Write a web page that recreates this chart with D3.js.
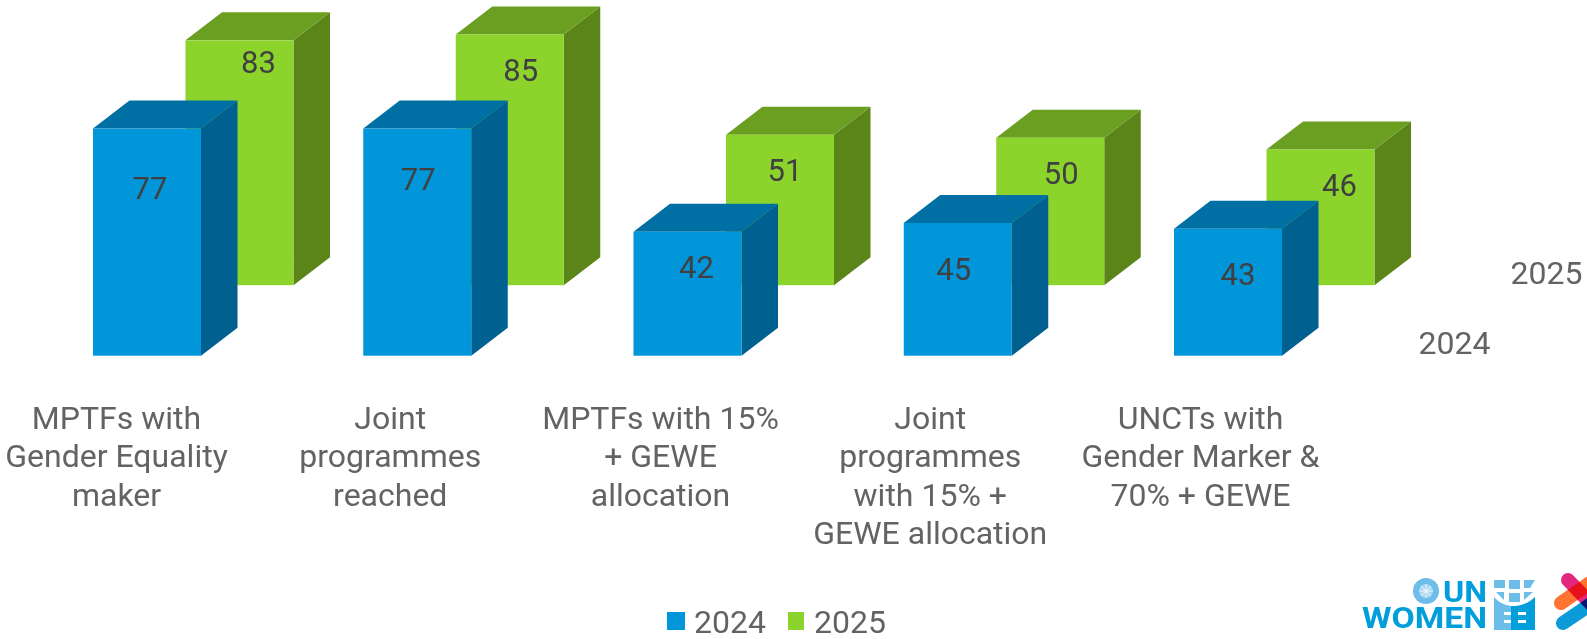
<!DOCTYPE html>
<html><head>
<meta charset="utf-8">
<script src="https://d3js.org/d3.v7.min.js"></script>
<style>
  html, body { margin: 0; padding: 0; background: #fff; overflow: hidden; }
  svg { display: block; }
  text { font-family: Roboto, sans-serif; }
  .cat text, .depth text, .legend text { fill: #636363; font-size: 32px; }
  .val { fill: #404040; font-size: 31px; text-anchor: middle; }
</style>
</head>
<body>
<svg id="chart" width="1587" height="639"></svg>
<script>
const categories = [
  ["MPTFs with", "Gender Equality", "maker"],
  ["Joint", "programmes", "reached"],
  ["MPTFs with 15%", "+ GEWE", "allocation"],
  ["Joint", "programmes", "with 15% +", "GEWE allocation"],
  ["UNCTs with", "Gender Marker &", "70% + GEWE"]
];
const years = ["2024", "2025"];
const values2024 = [77, 77, 42, 45, 43];
const values2025 = [83, 85, 51, 50, 46];

const svg = d3.select("#chart");

// front row sits on y=355.7, back row is shifted up and right
const step = 270.25;
const x = d3.scaleBand().domain(d3.range(5)).range([93, 93 + 4 * step + 108]).paddingInner(1 - 108 / step).paddingOuter(0).align(0);
const y = d3.scaleLinear().domain([0, 100]).range([0, 295]);
const depth = { dx: 36.5, dy: 28 };
const catNudge = [23.5, 27, 27, 26.5, 26.5];
const rows = [
  { year: "2025", values: values2025, ox: 92.5, base: 285.2, front: "#8cd42c", top: "#6b9f21", side: "#5c8519",
    nudge: [[19, 33], [11, 47], [5, 46], [11, 46], [19, 46]] },
  { year: "2024", values: values2024, ox: 0, base: 355.7, front: "#0096d9", top: "#006fa3", side: "#00608f",
    nudge: [[3, 70], [1, 61], [9, 46], [-4, 57], [10, 56]] }
];

rows.forEach(row => {
  const g = svg.append("g").attr("class", "row-" + row.year);
  const w = x.bandwidth();
  row.labelPos = [];
  row.values.forEach((v, i) => {
    const x0 = x(i) + row.ox;
    const y0 = row.base - y(v);
    const bar = g.append("g");
    bar.append("path").attr("fill", row.side)
      .attr("d", d3.line()([[x0 + w, y0], [x0 + w + depth.dx, y0 - depth.dy], [x0 + w + depth.dx, row.base - depth.dy], [x0 + w, row.base]]) + "Z");
    bar.append("path").attr("fill", row.top)
      .attr("d", d3.line()([[x0, y0], [x0 + depth.dx, y0 - depth.dy], [x0 + w + depth.dx, y0 - depth.dy], [x0 + w, y0]]) + "Z");
    bar.append("rect").attr("fill", row.front)
      .attr("x", x0).attr("y", y0).attr("width", w).attr("height", y(v));
    row.labelPos.push([x0 + w / 2 + row.nudge[i][0], y0 + row.nudge[i][1]]);
  });
});

// labels go over every bar
rows.forEach(row => {
  svg.append("g").selectAll("text").data(row.values).join("text")
    .attr("class", "val")
    .attr("x", (d, i) => row.labelPos[i][0])
    .attr("y", (d, i) => row.labelPos[i][1])
    .text(d => d);
});

// category labels
const catG = svg.append("g").attr("class", "cat");
categories.forEach((lines, i) => {
  const t = catG.append("text").attr("text-anchor", "middle");
  lines.forEach((line, j) => {
    t.append("tspan").attr("x", x(i) + catNudge[i]).attr("y", 428.5 + j * 38.5).text(line);
  });
});

// depth axis labels
const depthG = svg.append("g").attr("class", "depth");
depthG.append("text").attr("text-anchor", "middle").attr("x", 1454.5).attr("y", 354).text(years[0]);
depthG.append("text").attr("text-anchor", "middle").attr("x", 1546.5).attr("y", 284).text(years[1]);

// legend
const legendX = [667, 788];
const legend = svg.append("g").attr("class", "legend").selectAll("g").data(years).join("g");
legend.append("rect")
  .attr("x", (d, i) => legendX[i]).attr("y", 612)
  .attr("width", (d, i) => i ? 16 : 18).attr("height", 18)
  .attr("fill", (d, i) => i ? "#8cd42c" : "#0096d9");
legend.append("text")
  .attr("x", (d, i) => legendX[i] + (i ? 26 : 27)).attr("y", 633)
  .text(d => d);

// UN Women logo
const logo = svg.append("g").attr("class", "logo");
const logoBlue = "#009edb";
const logoLight = "#6cbde9";
logo.append("circle").attr("cx", 1426).attr("cy", 591).attr("r", 13).attr("fill", logoLight);
logo.append("circle").attr("cx", 1426).attr("cy", 591).attr("r", 7).attr("fill", "#a9d8f2");
logo.append("path").attr("fill", "none").attr("stroke", "#fff").attr("stroke-width", 0.8)
  .attr("d", "M1426 584V598M1419 591H1433M1421 586L1431 596M1431 586L1421 596");
logo.append("text").attr("x", 1443).attr("y", 601.5).attr("fill", logoBlue)
  .attr("font-size", 29).attr("font-weight", 700).attr("textLength", 44).attr("lengthAdjust", "spacingAndGlyphs").text("UN");
logo.append("text").attr("x", 1362).attr("y", 628).attr("fill", logoBlue)
  .attr("font-size", 30).attr("font-weight", 700).attr("textLength", 125).attr("lengthAdjust", "spacingAndGlyphs").text("WOMEN");
// emblem
logo.append("path").attr("fill", logoLight)
  .attr("d", "M1494 580H1505V588H1494ZM1509 580H1520V589H1509ZM1524 580H1535L1530 588H1524ZM1496 592L1504 592V600ZM1509 593H1520V602H1509ZM1524 592H1533L1524 600Z");
logo.append("path").attr("fill", logoLight)
  .attr("d", "M1494 597Q1501 605 1511 606V630H1494Z");
logo.append("path").attr("fill", logoBlue)
  .attr("d", "M1535 597Q1527 605 1516 606H1511V630H1535Z");
logo.append("path").attr("fill", "#fff")
  .attr("d", "M1504 612H1511V615H1504ZM1504 620H1511V623H1504ZM1518 612H1526V615H1518ZM1518 620H1526V623H1518Z");
// colour cross, runs off the right edge
const cross = [
  { c: "#ff7433", p: [[1561, 603], [1600, 576]] },
  { c: "#e5267f", p: [[1568, 580], [1600, 613]] },
  { c: "#0a9bd8", p: [[1563, 623], [1600, 598]] }
];
logo.selectAll("path.cross").data(cross).join("path").attr("class", "cross")
  .attr("d", d => d3.line()(d.p))
  .attr("fill", "none").attr("stroke", d => d.c).attr("stroke-width", 14).attr("stroke-linecap", "round")
  .style("mix-blend-mode", "multiply");
</script>
</body></html>
